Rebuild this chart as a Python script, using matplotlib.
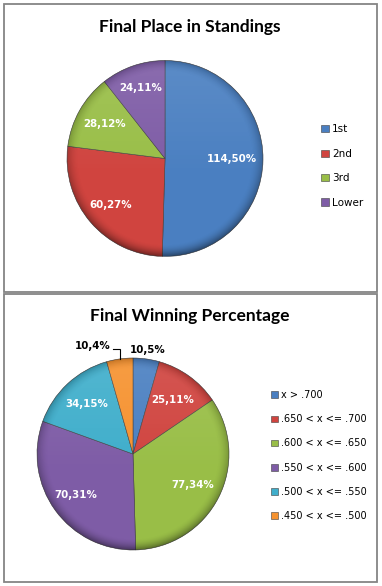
import numpy as np
import matplotlib
matplotlib.use("Agg")
import matplotlib.pyplot as plt
from matplotlib.patches import Rectangle, Circle

W, H = 382, 586

# --- data -------------------------------------------------------------
place_labels = ["1st", "2nd", "3rd", "Lower"]
place_counts = [114, 60, 28, 24]
place_pcts = [50, 27, 12, 11]

winpct_labels = ["x > .700", ".650 < x <= .700", ".600 < x <= .650",
                 ".550 < x <= .600", ".500 < x <= .550", ".450 < x <= .500"]
winpct_counts = [10, 25, 77, 70, 34, 10]
winpct_pcts = [5, 11, 34, 31, 15, 4]

place_colors = ["#4A7FC1", "#D0443F", "#99BE47", "#7E5CA6"]
winpct_colors = ["#4A7FC1", "#D0443F", "#99BE47", "#7E5CA6", "#3FAECB", "#F6922F"]

TITLE_FONT = ["Lato", "DejaVu Sans"]
BODY_FONT = ["DejaVu Sans"]
PAD = 1.35


def px_axes(fig, cx, cy, r):
    """square axes centred on pixel (cx, cy) (top-down), data units = pie radius"""
    half = r * PAD
    ax = fig.add_axes([(cx - half) / W, (H - cy - half) / H, 2 * half / W, 2 * half / H])
    return ax


def shade(ax):
    # rim shadow + soft top light, clipped to the pie disc (office bevel look)
    n = 300
    g = np.linspace(-1, 1, n)
    X, Y = np.meshgrid(g, g)
    R = np.hypot(X, Y)
    rim = np.clip((R - 0.88) / 0.12, 0, 1) ** 1.8
    dark = rim * (0.20 + 0.22 * np.clip(-Y, 0, 1))
    img = np.zeros((n, n, 4))
    img[..., 3] = dark
    im = ax.imshow(img, extent=(-1, 1, -1, 1), origin="lower", zorder=3, interpolation="bilinear")
    im.set_clip_path(Circle((0, 0), 1.0, transform=ax.transData))
    light = np.zeros((n, n, 4))
    light[..., :3] = 1.0
    light[..., 3] = 0.10 * np.clip((Y + 0.2) / 1.2, 0, 1) * (1 - rim)
    im2 = ax.imshow(light, extent=(-1, 1, -1, 1), origin="lower", zorder=3, interpolation="bilinear")
    im2.set_clip_path(Circle((0, 0), 1.0, transform=ax.transData))


def draw_pie(ax, counts, colors):
    wedges, _ = ax.pie(counts, colors=colors, startangle=90, counterclock=False,
                       radius=1.0, center=(0, 0),
                       wedgeprops=dict(edgecolor="#404040", linewidth=0.4))
    shade(ax)
    ax.set_xlim(-PAD, PAD)
    ax.set_ylim(-PAD, PAD)
    ax.set_aspect("equal")
    ax.axis("off")
    return wedges


def mid_angle(w):
    return np.deg2rad((w.theta1 + w.theta2) / 2.0)


fig = plt.figure(figsize=(W / 100, H / 100), dpi=100)
fig.patch.set_facecolor("white")

# panel frames
bg = fig.add_axes([0, 0, 1, 1])
bg.set_xlim(0, W)
bg.set_ylim(H, 0)
bg.axis("off")
for (x0, y0, x1, y1) in [(4, 4, 377, 292), (4, 294, 377, 582)]:
    bg.add_patch(Rectangle((x0, y0), x1 - x0, y1 - y0, fill=False, ec="#858585", lw=1.3))

lab_kw = dict(ha="center", va="center", fontsize=7.4, fontweight="bold", family=BODY_FONT, zorder=6)

# --- top: final place -------------------------------------------------
ax1 = px_axes(fig, 165, 158.5, 98)
w1 = draw_pie(ax1, place_counts, place_colors)
place_lab_dist = [0.68, 0.73, 0.71, 0.76]
for w, c, p, d in zip(w1, place_counts, place_pcts, place_lab_dist):
    a = mid_angle(w)
    ax1.text(d * np.cos(a), d * np.sin(a), f"{c},{p}%", color="white", **lab_kw)
fig.text(190 / W, 1 - 27 / H, "Final Place in Standings", ha="center", va="center",
         fontsize=12.5, fontweight="bold", family=TITLE_FONT)
fig.legend(w1, place_labels, loc="center left", bbox_to_anchor=(316 / W, 1 - 166 / H),
           frameon=False, handlelength=0.7, handleheight=0.7,
           handletextpad=0.35, labelspacing=1.38, borderpad=0,
           prop=dict(family=BODY_FONT, size=7.5))

# --- bottom: winning percentage --------------------------------------
ax2 = px_axes(fig, 133, 454, 96)
w2 = draw_pie(ax2, winpct_counts, winpct_colors)
win_lab_dist = [1.09, 0.70, 0.70, 0.73, 0.71, None]
for w, c, p, d in zip(w2, winpct_counts, winpct_pcts, win_lab_dist):
    a = mid_angle(w)
    txt = f"{c},{p}%"
    if d is None:
        # outside label with leader line
        rx, ry = np.cos(a), np.sin(a)
        ly = 1.09
        ax2.plot([rx, rx, rx - 0.07], [ry, ly, ly], color="black", lw=0.8, zorder=6,
                 solid_joinstyle="miter", clip_on=False)
        ax2.text(rx - 0.09, ly + 0.035, txt, color="black",
                 **{**lab_kw, "ha": "right"})
    else:
        col = "black" if d > 1 else "white"
        ax2.text(d * np.cos(a), d * np.sin(a), txt, color=col, **lab_kw)
fig.text(190 / W, 1 - 316 / H, "Final Winning Percentage", ha="center", va="center",
         fontsize=12.5, fontweight="bold", family=TITLE_FONT)
fig.legend(w2, winpct_labels, loc="center left", bbox_to_anchor=(266 / W, 1 - 455.5 / H),
           frameon=False, handlelength=0.7, handleheight=0.7,
           handletextpad=0.3, labelspacing=1.45, borderpad=0,
           prop=dict(family=BODY_FONT, size=7))

fig.savefig("out.png", dpi=100, facecolor="white")
